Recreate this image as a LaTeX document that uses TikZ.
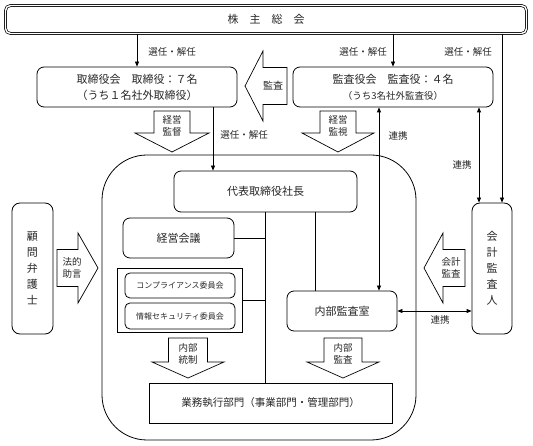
\documentclass[tikz,border=0pt]{standalone}
\usepackage{fontspec}
\setmainfont{Noto Sans CJK JP}
\usetikzlibrary{arrows.meta}
\newcommand\blkdown[6]{% cx, bodyhalf, top, heady, headhalf, tip
  \draw[blk] (#1-#2,#3) -- (#1+#2,#3) -- (#1+#2,#4) -- (#1+#5,#4) -- (#1,#6) -- (#1-#5,#4) -- (#1-#2,#4) -- cycle;}
\newcommand\blkhor[6]{% cy, bodyhalf, bodyend, headx, headhalf, tip
  \draw[blk] (#3,#1-#2) -- (#4,#1-#2) -- (#4,#1-#5) -- (#6,#1) -- (#4,#1+#5) -- (#4,#1+#2) -- (#3,#1+#2) -- cycle;}
\begin{document}
\begin{tikzpicture}[x=1pt,y=-1pt,
  every node/.style={inner sep=0pt, text=black!85},
  rbox/.style={draw, rounded corners=7pt, line width=0.8pt, font=\fontsize{11}{16}\selectfont, align=center},
  sbox/.style={draw, line width=0.8pt, font=\fontsize{11}{16}\selectfont, align=center},
  lab/.style={font=\fontsize{9.5}{11}\selectfont},
  alab/.style={font=\fontsize{9.5}{12}\selectfont, align=center},
  arr/.style={-{Triangle[length=5pt,width=4pt]}, line width=0.8pt},
  darr/.style={{Triangle[length=5pt,width=4pt]}-{Triangle[length=5pt,width=4pt]}, line width=0.8pt},
  ln/.style={line width=0.8pt},
  blk/.style={draw, line width=0.7pt, fill=white},
]
\useasboundingbox (0,0) rectangle (533,446);
% frame
\node[draw, line width=0.8pt, rounded corners=45pt, minimum width=314pt, minimum height=285pt] (core) at (259,297.5) {};
% boxes
\node[draw, line width=0.7pt, double, double distance=1.4pt, rounded corners=5pt, minimum width=521pt, minimum height=28pt, font=\fontsize{11}{14}\selectfont] (sokai) at (266,19.5) {株　主　総　会};
\node[rbox, minimum width=200pt, minimum height=40pt] (tori) at (137,87) {取締役会　取締役：７名\\（うち１名社外取締役）};
\node[rbox, minimum width=200pt, minimum height=40pt] (kansa) at (393,87) {監査役会　監査役：４名\\{\fontsize{9.5}{16}\selectfont（うち3名社外監査役）}};
\node[rbox, minimum width=183pt, minimum height=41pt] (pres) at (265.5,191.5) {代表取締役社長};
\node[rbox, minimum width=111pt, minimum height=40pt] (keiei) at (178.5,238) {経営会議};
\node[sbox, minimum width=125pt, minimum height=64pt] (iinkai) at (179.5,300) {};
\node[rbox, rounded corners=5pt, minimum width=110pt, minimum height=25pt, font=\fontsize{8}{10}\selectfont] (comp) at (180,285.5) {コンプライアンス委員会};
\node[rbox, rounded corners=5pt, minimum width=110pt, minimum height=26pt, font=\fontsize{8}{10}\selectfont] (info) at (180,316) {情報セキュリティ委員会};
\node[rbox, minimum width=110pt, minimum height=40pt] (naibu) at (342,311) {内部監査室};
\node[sbox, minimum width=243pt, minimum height=40pt, font=\fontsize{10.5}{14}\selectfont] (gyomu) at (270.5,403) {業務執行部門（事業部門・管理部門）};
\node[rbox, rounded corners=8pt, minimum width=41pt, minimum height=131pt] (komon) at (32.5,268.5) {顧\\問\\弁\\護\\士};
\node[rbox, rounded corners=8pt, minimum width=40pt, minimum height=131pt] (kaikei) at (492,268.5) {会\\計\\監\\査\\人};
% x positions
\coordinate (x213) at (213,0);
\coordinate (x265) at (265,0);
\coordinate (x315) at (315,0);
\coordinate (x379) at (379,0);
\coordinate (x479) at (479,0);
\coordinate (x502) at (502,0);
% connectors
\draw[arr] (tori.north |- sokai.south) -- (tori.north);
\draw[arr] (kansa.north |- sokai.south) -- (kansa.north);
\draw[arr] (sokai.south -| x502) -- (kaikei.north -| x502);
\draw[darr] (kansa.south -| x479) -- (kaikei.north -| x479);
\draw[darr] (kansa.south -| x379) -- (naibu.north -| x379);
\draw[arr] (tori.south -| x213) -- (pres.north -| x213);
\draw[ln] (pres.south -| x265) -- (gyomu.north -| x265);
\draw[ln] (keiei.east) -- (keiei.east -| x265);
\draw[ln] (iinkai.east) -- (iinkai.east -| x265);
\draw[ln] (pres.south -| x315) -- (naibu.north -| x315);
\draw[darr] (naibu.east) -- (naibu.east -| kaikei.west);
% labels
\node[lab] (l1) at (172,52) {選任・解任};
\node[lab] (l2) at (363,52) {選任・解任};
\node[lab] (l3) at (468,52) {選任・解任};
\node[lab] (l4) at (244,135) {選任・解任};
\node[lab] (r1) at (398,136) {連携};
\node[lab] (r2) at (462,165) {連携};
\node[lab] (r3) at (440,320) {連携};
% block arrows
\blkhor{86}{18.5}{287}{263}{35}{245}
\node[alab, font=\fontsize{10}{12}\selectfont] (a1) at (273,86) {監査};
\blkhor{268}{18.5}{465}{443}{35}{424}
\node[alab] (a2) at (451,268) {会計\\監査};
\blkhor{268}{18.5}{57}{78}{35}{98}
\node[alab] (a3) at (72,268) {法的\\助言};
\blkdown{172}{18}{111}{133}{37}{152}
\node[alab] (a4) at (172,126) {経営\\監督};
\blkdown{338}{18}{111}{133}{36}{152}
\node[alab] (a5) at (338,126) {経営\\監視};
\blkdown{188}{19.5}{338}{362}{36}{378}
\node[alab] (a6) at (188,354) {内部\\統制};
\blkdown{343}{19}{338}{362}{36}{378}
\node[alab] (a7) at (343,354) {内部\\監査};
\end{tikzpicture}
\end{document}
